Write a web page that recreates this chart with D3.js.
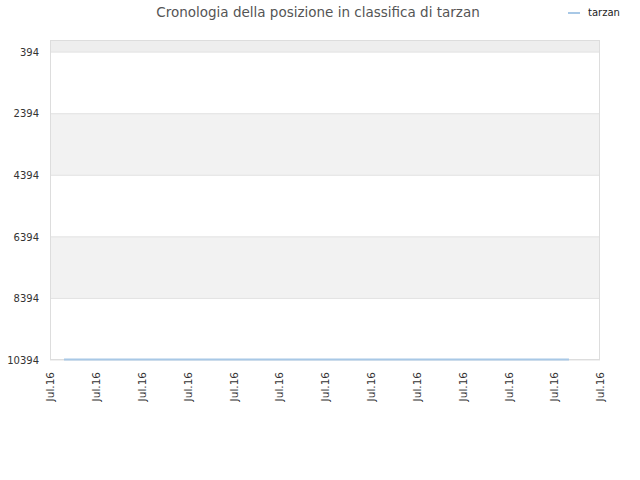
<!DOCTYPE html>
<html>
<head>
<meta charset="utf-8">
<script src="https://cdn.jsdelivr.net/npm/d3@7"></script>
<style>
  body { margin: 0; background: #fff; }
  text { font-family: "DejaVu Sans", sans-serif; }
</style>
</head>
<body>
<svg id="chart"></svg>
<script>
/* chart data */
var title = "Cronologia della posizione in classifica di tarzan";
var seriesName = "tarzan";
var rankTicks = [394, 2394, 4394, 6394, 8394, 10394];
var xTickDates = ["2016-07-01", "2016-07-03", "2016-07-05", "2016-07-07", "2016-07-09", "2016-07-11", "2016-07-13",
                  "2016-07-15", "2016-07-17", "2016-07-19", "2016-07-21", "2016-07-23", "2016-07-25"];
var pointDates = ["2016-07-01T14:40", "2016-07-06T12:00", "2016-07-12T12:00", "2016-07-18T12:00", "2016-07-23T15:30"];
var pointRanks = [10380, 10380, 10380, 10380, 10380];

var W = 640, H = 480;
var plot = {left: 50, right: 600, top: 40, bottom: 360};

var svg = d3.select('svg#chart')
    .attr('width', W)
    .attr('height', H)
    .style('background', '#fff');

var parse = d3.isoParse;
var x = d3.scaleTime()
    .domain([parse(xTickDates[0]), parse(xTickDates[xTickDates.length - 1])])
    .range([plot.left, plot.right]);
var y = d3.scaleLinear()
    .domain([0, 10394])
    .range([plot.top, plot.bottom]);

/* alternating bands */
var bandEdges = [0].concat(rankTicks);
var bands = [];
for (var i = 0; i < bandEdges.length - 1; i++) {
    bands.push({from: bandEdges[i], to: bandEdges[i + 1], idx: i});
}
svg.append('g').selectAll('rect')
    .data(bands)
    .enter()
    .append('rect')
    .attr('x', plot.left)
    .attr('width', plot.right - plot.left)
    .attr('y', d => y(d.from))
    .attr('height', d => y(d.to) - y(d.from))
    .style('fill', d => d.idx === 0 ? '#eeeeee' : (d.idx % 2 === 0 ? '#f2f2f2' : '#ffffff'));

/* grid lines */
svg.append('g').selectAll('line')
    .data(rankTicks)
    .enter()
    .append('line')
    .attr('x1', plot.left)
    .attr('x2', plot.right)
    .attr('y1', d => y(d))
    .attr('y2', d => y(d))
    .style('stroke', '#e2e2e2')
    .style('stroke-width', 1);

/* plot border */
svg.append('rect')
    .attr('x', plot.left + 0.5)
    .attr('y', plot.top + 0.5)
    .attr('width', plot.right - plot.left - 1)
    .attr('height', plot.bottom - plot.top - 1)
    .style('fill', 'none')
    .style('stroke', '#dddddd');

/* y axis */
var yAxis = svg.append('g')
    .attr('transform', `translate(${plot.left},0)`)
    .call(d3.axisLeft(y).tickValues(rankTicks).tickSize(0).tickPadding(11).tickFormat(d3.format('d')));
yAxis.select('.domain').remove();
yAxis.selectAll('text')
    .style('font-size', '10px')
    .style('fill', '#333');

/* x axis */
var xAxis = svg.append('g')
    .attr('transform', `translate(0,${plot.bottom})`)
    .call(d3.axisBottom(x).tickValues(xTickDates.map(parse)).tickSize(0).tickFormat(() => 'Jul.16'));
xAxis.select('.domain').remove();
xAxis.selectAll('text')
    .attr('transform', 'rotate(-90)')
    .attr('x', -12)
    .attr('y', 0)
    .attr('dy', '0.35em')
    .style('text-anchor', 'end')
    .style('font-size', '10.5px')
    .style('fill', '#333');

/* series line */
var pts = pointDates.map((d, i) => ({date: parse(d), rank: pointRanks[i]}));
svg.append('path')
    .datum(pts)
    .attr('d', d3.line().x(d => x(d.date)).y(d => y(d.rank)))
    .style('fill', 'none')
    .style('stroke', '#a8c8e6')
    .style('stroke-width', 2);

/* title */
svg.append('text')
    .attr('x', 318)
    .attr('y', 17)
    .attr('text-anchor', 'middle')
    .style('font-size', '13.5px')
    .style('fill', '#555')
    .text(title);

/* legend */
svg.append('line')
    .attr('x1', 568).attr('x2', 580)
    .attr('y1', 13).attr('y2', 13)
    .style('stroke', '#a8c8e6')
    .style('stroke-width', 2);
svg.append('text')
    .attr('x', 588)
    .attr('y', 16)
    .style('font-size', '10px')
    .style('fill', '#222')
    .text(seriesName);
</script>
</body>
</html>
